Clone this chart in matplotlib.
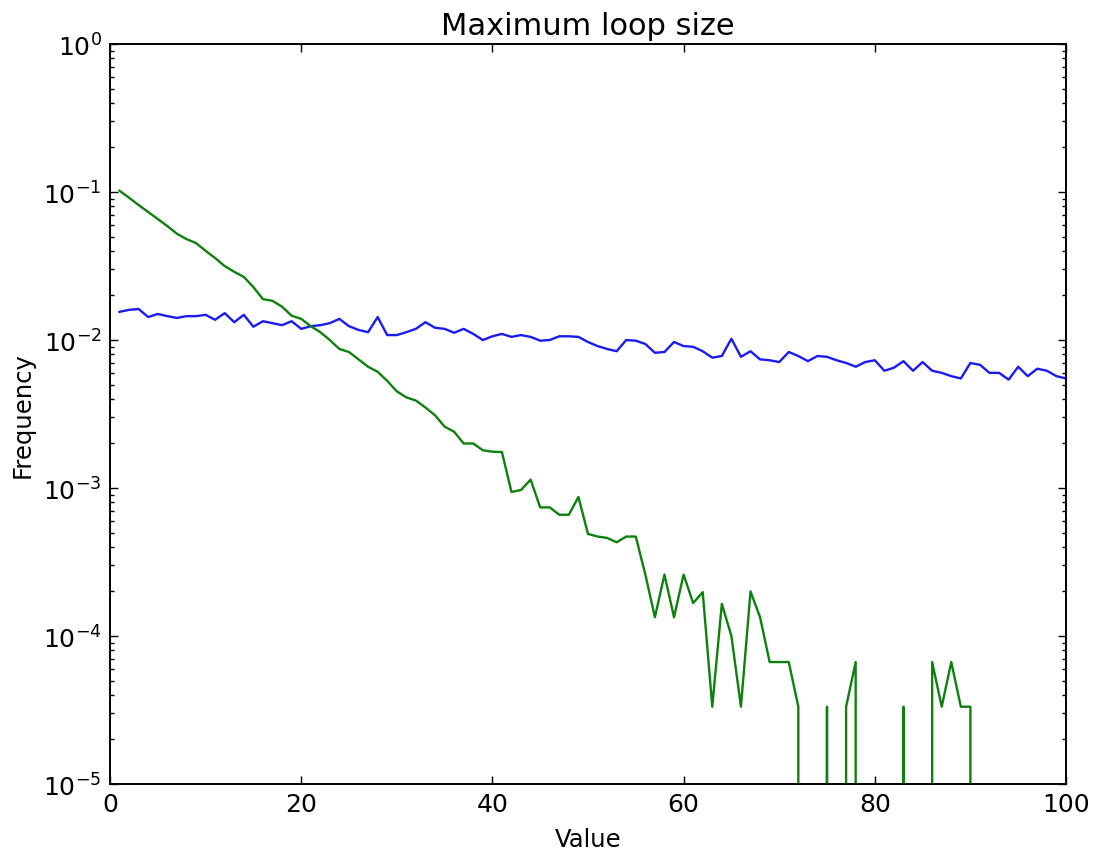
import matplotlib
matplotlib.use("Agg")
import matplotlib.pyplot as plt
import numpy as np

# value axis: loop sizes 1..100
values = np.arange(1, 101)

# blue series
freq_blue = [
    0.0155, 0.0160, 0.0162, 0.0143, 0.0150, 0.0145, 0.0141, 0.0145, 0.0145, 0.0148,
    0.0137, 0.0152, 0.0132, 0.0148, 0.0123, 0.0134, 0.0130, 0.0126, 0.0134, 0.0119,
    0.0124, 0.0126, 0.0130, 0.0139, 0.0124, 0.0117, 0.0113, 0.0143, 0.0108, 0.0108,
    0.0113, 0.0119, 0.0132, 0.0121, 0.0119, 0.0112, 0.0119, 0.0110, 0.0100, 0.0106,
    0.0110, 0.0105, 0.0108, 0.0105, 0.0099, 0.0100, 0.0106, 0.0106, 0.0105, 0.0097,
    0.0091, 0.0087, 0.0084, 0.0100, 0.0099, 0.0094, 0.0082, 0.0083, 0.0097, 0.0091,
    0.0090, 0.0084, 0.0076, 0.0078, 0.0102, 0.0077, 0.0084, 0.0074, 0.0073, 0.0071,
    0.0083, 0.0078, 0.0072, 0.0078, 0.0077, 0.0073, 0.0070, 0.0066, 0.0071, 0.0073,
    0.0062, 0.0065, 0.0072, 0.0062, 0.0071, 0.0062, 0.0060, 0.0057, 0.0055, 0.0070,
    0.0068, 0.0060, 0.0060, 0.0054, 0.0066, 0.0057, 0.0064, 0.0062, 0.0057, 0.0055,
]

# green series, zeros fall off the log axis
freq_green = [
    0.102, 0.0915, 0.0817, 0.0733, 0.0657, 0.0589, 0.0523, 0.0481, 0.0452, 0.0401,
    0.0358, 0.0316, 0.0289, 0.0267, 0.0228, 0.0189, 0.0184, 0.0168, 0.0146, 0.0139,
    0.0124, 0.0113, 0.0100, 0.0087, 0.0083, 0.0074, 0.0066, 0.0061, 0.0053, 0.0045,
    0.0041, 0.0039, 0.0035, 0.0031, 0.0026, 0.0024, 0.0020, 0.0020, 0.0018, 0.00176,
    0.00175, 0.00094, 0.00097, 0.00114, 0.00074, 0.00074, 0.00066, 0.00066, 0.00087, 0.00049,
    0.00047, 0.00046, 0.00043, 0.00047, 0.00047, 0.00026, 0.000134, 0.00026, 0.000134, 0.00026,
    0.000167, 0.000198, 3.33e-5, 0.000165, 1.0e-4, 3.33e-5, 0.0002, 0.000134, 6.67e-5, 6.67e-5,
    6.67e-5, 3.33e-5, 0, 0, 3.33e-5, 0, 3.33e-5, 6.67e-5, 0, 0,
    0, 0, 3.33e-5, 0, 0, 6.67e-5, 3.33e-5, 6.67e-5, 3.33e-5, 3.33e-5,
    0, 0, 0, 0, 0, 0, 0, 0, 0, 0,
]

fig = plt.figure(figsize=(10.93, 8.53), dpi=100, facecolor="white")
ax = fig.add_axes([0.1006, 0.0797, 0.8747, 0.8675])

ax.plot(values, freq_blue, color=(0.1, 0.1, 0.95), lw=1.7)
ax.plot(values, freq_green, color=(0.05, 0.5, 0.05), lw=1.7)

ax.set_yscale("log")
ax.set_xlim(0, 100)
ax.set_ylim(1e-5, 1e0)
ax.set_xticks([0, 20, 40, 60, 80, 100])

ax.tick_params(which="both", direction="in", top=True, right=True,
               labelsize=18, pad=6, width=1.0)
ax.tick_params(which="major", length=6)
ax.tick_params(which="minor", length=3)
for s in ax.spines.values():
    s.set_linewidth(1.4)

ax.set_title("Maximum loop size", fontsize=22, pad=7)
ax.set_xlabel("Value", fontsize=17.5, labelpad=8)
ax.set_ylabel("Frequency", fontsize=17.5, labelpad=6)

fig.savefig("out.png", dpi=100, facecolor="white")
